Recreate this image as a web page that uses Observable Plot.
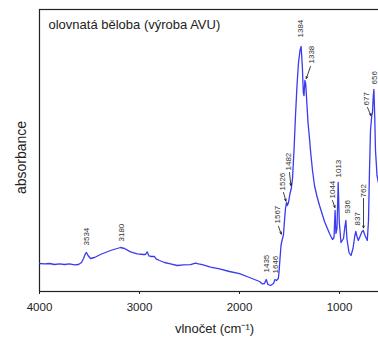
<!DOCTYPE html>
<html>
<head>
<meta charset="utf-8">
<script src="https://cdn.jsdelivr.net/npm/d3@7"></script>
<script src="https://cdn.jsdelivr.net/npm/@observablehq/plot@0.6"></script>
<style>
  html, body { margin: 0; padding: 0; background: #fff; overflow: hidden; }
  #chart { width: 378px; height: 337px; overflow: hidden; }
  #chart svg { font-family: "Liberation Sans", Arial, sans-serif; max-width: none !important; width: 390px; height: 337px; }
</style>
</head>
<body>
<div id="chart"></div>
<script>
const title = "olovnatá běloba (výroba AVU)";
const xLabel = "vlnočet (cm⁻¹)";
const yLabel = "absorbance";
const xTicks = [4000, 3000, 2000, 1000];

// spectrum (wavenumber cm-1, absorbance a.u.)
const wavenumber = [4000,3950,3900,3850,3800,3750,3700,3650,3610,3580,3560,3540,3530,3515,3490,3450,3390,3290,3190,3150,3090,3023,2960,2940,2923,2905,2880,2850,2835,2800,2750,2690,2623,2560,2490,2440,2410,2373,2290,2200,2100,2000,1900,1800,1770,1750,1733,1715,1690,1660,1645,1630,1612,1605,1595,1585,1575,1567,1560,1550,1540,1530,1522,1510,1495,1482,1470,1455,1440,1425,1410,1395,1384,1372,1362,1355,1346,1338,1325,1315,1300,1290,1270,1250,1225,1200,1150,1100,1070,1055,1044,1036,1025,1013,1002,985,960,946,936,926,905,885,865,848,837,825,812,795,775,762,745,722,710,700,690,680,677,670,662,656,648,640,625,605];
const absorbance = [0.140,0.138,0.140,0.135,0.138,0.135,0.138,0.133,0.135,0.145,0.165,0.190,0.195,0.180,0.165,0.170,0.185,0.205,0.220,0.215,0.198,0.188,0.185,0.185,0.198,0.178,0.175,0.175,0.163,0.155,0.145,0.138,0.130,0.133,0.134,0.142,0.138,0.134,0.122,0.113,0.100,0.089,0.070,0.050,0.038,0.040,0.060,0.035,0.030,0.040,0.060,0.055,0.065,0.095,0.165,0.230,0.255,0.270,0.285,0.355,0.415,0.445,0.430,0.445,0.490,0.515,0.565,0.705,0.880,1.030,1.145,1.205,1.225,1.130,0.995,0.980,1.055,1.040,0.930,0.845,0.765,0.705,0.605,0.530,0.475,0.430,0.350,0.290,0.260,0.270,0.405,0.290,0.315,0.545,0.345,0.245,0.265,0.325,0.355,0.265,0.195,0.180,0.215,0.275,0.300,0.275,0.255,0.275,0.300,0.305,0.280,0.255,0.355,0.605,0.805,0.865,0.880,0.895,0.980,1.010,0.880,0.705,0.580,0.530];

// peak annotations: text, anchor wavenumber and height of the text foot
const peakText = ["3534","3180","1435","1646","1567","1526","1482","1384","1338","1044","1013","936","837","762","677","656"];
const peakLabelWn = [3530,3183,1733,1637,1623,1573,1507,1390,1280,1075,1013,923,825,765,730,650];
const peakLabelA = [0.230,0.250,0.095,0.090,0.340,0.505,0.605,1.270,1.140,0.465,0.570,0.390,0.330,0.470,0.930,1.035];

// leader arrows: from (wn1,a1) to (wn2,a2)
const arrowWn1 = [1610,1560,1500,1290,1070,760,720];
const arrowA1 = [0.325,0.495,0.595,1.125,0.455,0.465,0.920];
const arrowWn2 = [1582,1536,1486,1332,1046,760,686];
const arrowA2 = [0.287,0.452,0.530,1.065,0.420,0.318,0.880];

const spectrum = wavenumber.map((w, i) => ({w, a: absorbance[i]}));
const peaks = peakText.map((t, i) => ({t, w: peakLabelWn[i], a: peakLabelA[i]}));
const arrows = arrowWn1.map((w1, i) => ({w1, a1: arrowA1[i], w2: arrowWn2[i], a2: arrowA2[i]}));

const chart = Plot.plot({
  width: 390,
  height: 337,
  marginLeft: 39,
  marginRight: 1,
  marginTop: 9,
  marginBottom: 46,
  style: {fontFamily: "'Liberation Sans', Arial, sans-serif", background: "#fff", color: "#222", maxWidth: "none"},
  x: {domain: [4000, 500], ticks: xTicks, tickFormat: d => String(d), label: null},
  y: {domain: [0, 1.41], axis: null},
  marks: [
    Plot.frame({stroke: "#222", strokeWidth: 1.2}),
    Plot.axisX({ticks: xTicks, tickFormat: d => String(d), tickSize: 3, tickPadding: 8, fontSize: 11.5, label: null, stroke: "#222"}),
    Plot.line(spectrum, {x: "w", y: "a", stroke: "#3a3af0", strokeWidth: 1.3, curve: "linear"}),
    Plot.text(peaks, {x: "w", y: "a", text: "t", rotate: -90, textAnchor: "start", lineAnchor: "middle", fontSize: 8, fill: "#333"}),
    Plot.arrow(arrows, {x1: "w1", y1: "a1", x2: "w2", y2: "a2", stroke: "#111", strokeWidth: 0.8, headLength: 4, headAngle: 50}),
    Plot.text([title], {frameAnchor: "top-left", dx: 9, dy: 10, text: d => d, textAnchor: "start", lineAnchor: "top", fontSize: 13, fill: "#222"}),
    Plot.text([yLabel], {frameAnchor: "left", dx: -18, dy: 7, text: d => d, rotate: -90, textAnchor: "middle", lineAnchor: "middle", fontSize: 14, fill: "#222"}),
    Plot.text([xLabel], {frameAnchor: "bottom", dy: 37, text: d => d, textAnchor: "middle", lineAnchor: "middle", fontSize: 13, fill: "#222"})
  ]
});
document.getElementById("chart").appendChild(chart);
</script>
</body>
</html>
